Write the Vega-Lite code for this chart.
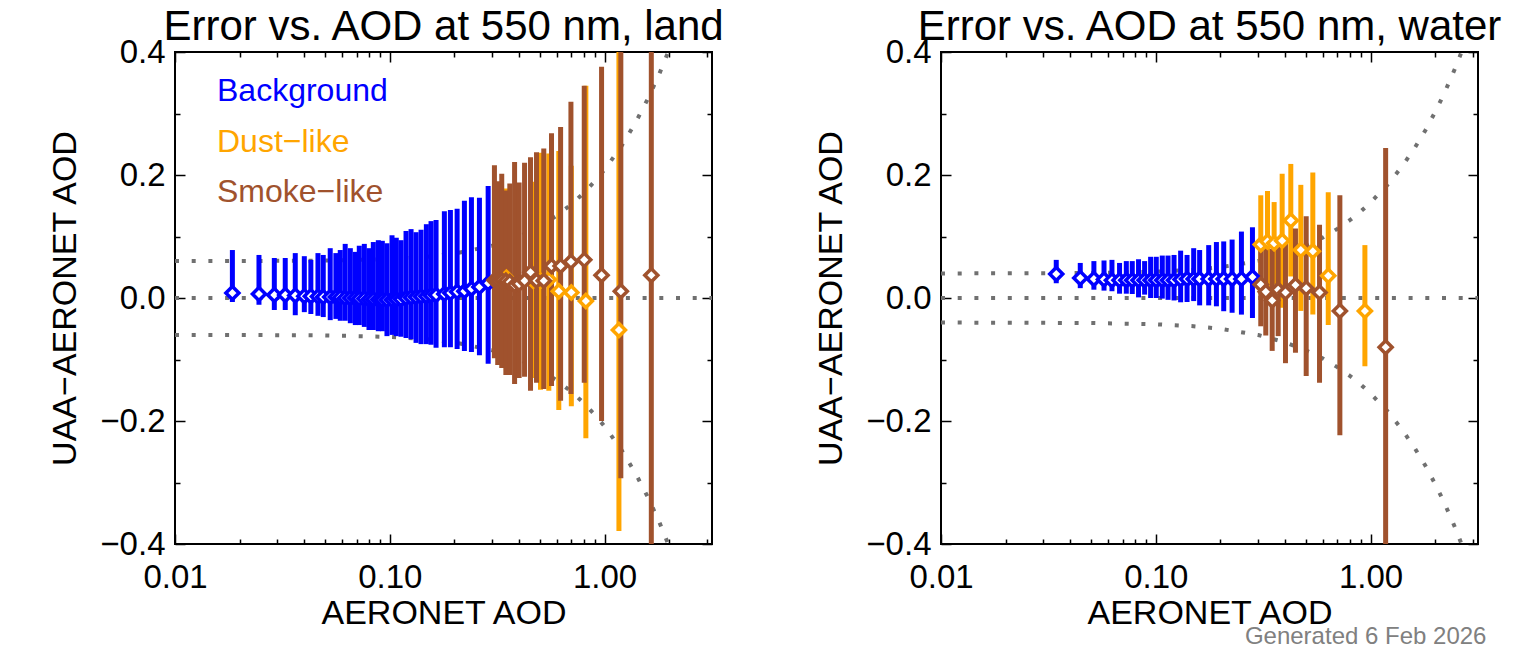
{
 "$schema": "https://vega.github.io/schema/vega-lite/v6.json",
 "padding": {"left": 47, "top": 5, "right": 10, "bottom": 2},
 "background": "white",
 "bounds": "flush",
 "spacing": 229,
 "config": {
  "font": "Liberation Sans",
  "view": {"stroke": "#000000", "strokeWidth": 2},
  "axis": {"domain": false, "grid": false, "labelFont": "Liberation Sans", "labelFontSize": 33, "labelColor": "#000000", "titleFont": "Liberation Sans", "titleFontSize": 34, "titleFontWeight": "normal", "titleColor": "#000000", "tickColor": "#000000", "tickWidth": 1.5, "labelOverlap": false, "labelFlush": false, "labelBound": false},
  "title": {"font": "Liberation Sans", "fontSize": 42, "fontWeight": "normal", "color": "#000000", "offset": -13}
 },
 "title": {"text": "Generated 6 Feb 2026", "orient": "bottom", "anchor": "end", "fontSize": 24, "color": "#808080", "fontWeight": "normal", "offset": -6, "dx": -17},
 "resolve": {"scale": {"color": "independent"}},
 "datasets": {
  "env": [
   {"p":"land","s":"zero","a":0.01,"v":0},{"p":"land","s":"zero","a":3.1623,"v":0},
   {"p":"water","s":"zero","a":0.01,"v":0},{"p":"water","s":"zero","a":3.1623,"v":0},
   {"p":"land","s":"up","a":0.01,"v":0.06},{"p":"land","s":"up","a":0.02,"v":0.0601},{"p":"land","s":"up","a":0.05,"v":0.0608},{"p":"land","s":"up","a":0.1,"v":0.0632},{"p":"land","s":"up","a":0.15,"v":0.0671},{"p":"land","s":"up","a":0.2,"v":0.0721},{"p":"land","s":"up","a":0.3,"v":0.0849},{"p":"land","s":"up","a":0.4,"v":0.1},{"p":"land","s":"up","a":0.5,"v":0.1166},{"p":"land","s":"up","a":0.6,"v":0.1342},{"p":"land","s":"up","a":0.7,"v":0.1523},{"p":"land","s":"up","a":0.8,"v":0.1709},{"p":"land","s":"up","a":0.9,"v":0.1897},{"p":"land","s":"up","a":1.0,"v":0.2088},{"p":"land","s":"up","a":1.2,"v":0.2474},{"p":"land","s":"up","a":1.4,"v":0.2865},{"p":"land","s":"up","a":1.6,"v":0.3258},{"p":"land","s":"up","a":1.8,"v":0.365},{"p":"land","s":"up","a":2.0,"v":0.4045},{"p":"land","s":"up","a":2.2,"v":0.444},{"p":"land","s":"up","a":2.5,"v":0.5036},{"p":"land","s":"up","a":2.8,"v":0.5632},{"p":"land","s":"up","a":3.16,"v":0.6347},
   {"p":"land","s":"lo","a":0.01,"v":-0.06},{"p":"land","s":"lo","a":0.02,"v":-0.0601},{"p":"land","s":"lo","a":0.05,"v":-0.0608},{"p":"land","s":"lo","a":0.1,"v":-0.0632},{"p":"land","s":"lo","a":0.15,"v":-0.0671},{"p":"land","s":"lo","a":0.2,"v":-0.0721},{"p":"land","s":"lo","a":0.3,"v":-0.0849},{"p":"land","s":"lo","a":0.4,"v":-0.1},{"p":"land","s":"lo","a":0.5,"v":-0.1166},{"p":"land","s":"lo","a":0.6,"v":-0.1342},{"p":"land","s":"lo","a":0.7,"v":-0.1523},{"p":"land","s":"lo","a":0.8,"v":-0.1709},{"p":"land","s":"lo","a":0.9,"v":-0.1897},{"p":"land","s":"lo","a":1.0,"v":-0.2088},{"p":"land","s":"lo","a":1.2,"v":-0.2474},{"p":"land","s":"lo","a":1.4,"v":-0.2865},{"p":"land","s":"lo","a":1.6,"v":-0.3258},{"p":"land","s":"lo","a":1.8,"v":-0.365},{"p":"land","s":"lo","a":2.0,"v":-0.4045},{"p":"land","s":"lo","a":2.2,"v":-0.444},{"p":"land","s":"lo","a":2.5,"v":-0.5036},{"p":"land","s":"lo","a":2.8,"v":-0.5632},{"p":"land","s":"lo","a":3.16,"v":-0.6347},
   {"p":"water","s":"up","a":0.01,"v":0.04},{"p":"water","s":"up","a":0.02,"v":0.0401},{"p":"water","s":"up","a":0.05,"v":0.0407},{"p":"water","s":"up","a":0.1,"v":0.0427},{"p":"water","s":"up","a":0.15,"v":0.0459},{"p":"water","s":"up","a":0.2,"v":0.05},{"p":"water","s":"up","a":0.3,"v":0.0602},{"p":"water","s":"up","a":0.4,"v":0.0721},{"p":"water","s":"up","a":0.5,"v":0.085},{"p":"water","s":"up","a":0.6,"v":0.0985},{"p":"water","s":"up","a":0.7,"v":0.1124},{"p":"water","s":"up","a":0.8,"v":0.1265},{"p":"water","s":"up","a":0.9,"v":0.1408},{"p":"water","s":"up","a":1.0,"v":0.1552},{"p":"water","s":"up","a":1.2,"v":0.1844},{"p":"water","s":"up","a":1.4,"v":0.2138},{"p":"water","s":"up","a":1.6,"v":0.2433},{"p":"water","s":"up","a":1.8,"v":0.2729},{"p":"water","s":"up","a":2.0,"v":0.3028},{"p":"water","s":"up","a":2.2,"v":0.3324},{"p":"water","s":"up","a":2.5,"v":0.3771},{"p":"water","s":"up","a":2.8,"v":0.4219},{"p":"water","s":"up","a":3.16,"v":0.4757},
   {"p":"water","s":"lo","a":0.01,"v":-0.04},{"p":"water","s":"lo","a":0.02,"v":-0.0401},{"p":"water","s":"lo","a":0.05,"v":-0.0407},{"p":"water","s":"lo","a":0.1,"v":-0.0427},{"p":"water","s":"lo","a":0.15,"v":-0.0459},{"p":"water","s":"lo","a":0.2,"v":-0.05},{"p":"water","s":"lo","a":0.3,"v":-0.0602},{"p":"water","s":"lo","a":0.4,"v":-0.0721},{"p":"water","s":"lo","a":0.5,"v":-0.085},{"p":"water","s":"lo","a":0.6,"v":-0.0985},{"p":"water","s":"lo","a":0.7,"v":-0.1124},{"p":"water","s":"lo","a":0.8,"v":-0.1265},{"p":"water","s":"lo","a":0.9,"v":-0.1408},{"p":"water","s":"lo","a":1.0,"v":-0.1552},{"p":"water","s":"lo","a":1.2,"v":-0.1844},{"p":"water","s":"lo","a":1.4,"v":-0.2138},{"p":"water","s":"lo","a":1.6,"v":-0.2433},{"p":"water","s":"lo","a":1.8,"v":-0.2729},{"p":"water","s":"lo","a":2.0,"v":-0.3028},{"p":"water","s":"lo","a":2.2,"v":-0.3324},{"p":"water","s":"lo","a":2.5,"v":-0.3771},{"p":"water","s":"lo","a":2.8,"v":-0.4219},{"p":"water","s":"lo","a":3.16,"v":-0.4757}
  ],
  "pts": [
   {"p":"land","c":"Background","a":0.0185,"e":0.008,"lo":-0.0065,"hi":0.078},
   {"p":"land","c":"Background","a":0.0246,"e":0.0065,"lo":-0.011,"hi":0.070},
   {"p":"land","c":"Background","a":0.0290,"e":0.005,"lo":-0.0195,"hi":0.065},
   {"p":"land","c":"Background","a":0.0326,"e":0.005,"lo":-0.0195,"hi":0.065},
   {"p":"land","c":"Background","a":0.0363,"e":0.004,"lo":-0.028,"hi":0.073},
   {"p":"land","c":"Background","a":0.0400,"e":0.003,"lo":-0.023,"hi":0.068},
   {"p":"land","c":"Background","a":0.0429,"e":0.003,"lo":-0.026,"hi":0.062},
   {"p":"land","c":"Background","a":0.0463,"e":0.0025,"lo":-0.029,"hi":0.073},
   {"p":"land","c":"Background","a":0.0490,"e":0.0015,"lo":-0.031,"hi":0.070},
   {"p":"land","c":"Background","a":0.0528,"e":0.0015,"lo":-0.036,"hi":0.081},
   {"p":"land","c":"Background","a":0.0561,"e":0.0015,"lo":-0.034,"hi":0.073},
   {"p":"land","c":"Background","a":0.0588,"e":0.001,"lo":-0.037,"hi":0.078},
   {"p":"land","c":"Background","a":0.0620,"e":0.0,"lo":-0.037,"hi":0.088},
   {"p":"land","c":"Background","a":0.0655,"e":0.0,"lo":-0.041,"hi":0.081},
   {"p":"land","c":"Background","a":0.0691,"e":0.0,"lo":-0.044,"hi":0.075},
   {"p":"land","c":"Background","a":0.0721,"e":-0.001,"lo":-0.044,"hi":0.085},
   {"p":"land","c":"Background","a":0.0761,"e":-0.001,"lo":-0.047,"hi":0.088},
   {"p":"land","c":"Background","a":0.0800,"e":-0.002,"lo":-0.052,"hi":0.081},
   {"p":"land","c":"Background","a":0.0838,"e":-0.002,"lo":-0.052,"hi":0.091},
   {"p":"land","c":"Background","a":0.0884,"e":-0.0025,"lo":-0.054,"hi":0.094},
   {"p":"land","c":"Background","a":0.0923,"e":-0.003,"lo":-0.054,"hi":0.093},
   {"p":"land","c":"Background","a":0.0970,"e":-0.003,"lo":-0.062,"hi":0.089},
   {"p":"land","c":"Background","a":0.1024,"e":-0.003,"lo":-0.060,"hi":0.102},
   {"p":"land","c":"Background","a":0.1072,"e":-0.0025,"lo":-0.062,"hi":0.098},
   {"p":"land","c":"Background","a":0.1128,"e":-0.002,"lo":-0.063,"hi":0.094},
   {"p":"land","c":"Background","a":0.1190,"e":0.0,"lo":-0.065,"hi":0.109},
   {"p":"land","c":"Background","a":0.1256,"e":0.001,"lo":-0.067,"hi":0.112},
   {"p":"land","c":"Background","a":0.1325,"e":0.0015,"lo":-0.073,"hi":0.107},
   {"p":"land","c":"Background","a":0.1398,"e":0.0025,"lo":-0.075,"hi":0.111},
   {"p":"land","c":"Background","a":0.1480,"e":0.003,"lo":-0.075,"hi":0.120},
   {"p":"land","c":"Background","a":0.1556,"e":0.004,"lo":-0.076,"hi":0.125},
   {"p":"land","c":"Background","a":0.1642,"e":0.005,"lo":-0.081,"hi":0.127},
   {"p":"land","c":"Background","a":0.1795,"e":0.0065,"lo":-0.080,"hi":0.141},
   {"p":"land","c":"Background","a":0.1915,"e":0.008,"lo":-0.080,"hi":0.143},
   {"p":"land","c":"Background","a":0.2058,"e":0.010,"lo":-0.083,"hi":0.145},
   {"p":"land","c":"Background","a":0.2225,"e":0.011,"lo":-0.086,"hi":0.158},
   {"p":"land","c":"Background","a":0.2399,"e":0.015,"lo":-0.088,"hi":0.164},
   {"p":"land","c":"Background","a":0.2614,"e":0.018,"lo":-0.093,"hi":0.163},
   {"p":"land","c":"Background","a":0.2870,"e":0.024,"lo":-0.107,"hi":0.182},
   {"p":"land","c":"Dust−like","a":0.349,"e":0.033,"lo":-0.118,"hi":0.178},
   {"p":"land","c":"Dust−like","a":0.465,"e":0.028,"lo":-0.130,"hi":0.189},
   {"p":"land","c":"Dust−like","a":0.503,"e":0.028,"lo":-0.149,"hi":0.236},
   {"p":"land","c":"Dust−like","a":0.550,"e":0.030,"lo":-0.151,"hi":0.235},
   {"p":"land","c":"Dust−like","a":0.612,"e":0.011,"lo":-0.182,"hi":0.239},
   {"p":"land","c":"Dust−like","a":0.700,"e":0.009,"lo":-0.176,"hi":0.215},
   {"p":"land","c":"Dust−like","a":0.818,"e":-0.005,"lo":-0.228,"hi":0.345},
   {"p":"land","c":"Dust−like","a":1.166,"e":-0.052,"lo":-0.379,"hi":0.55},
   {"p":"land","c":"Smoke−like","a":0.307,"e":0.029,"lo":-0.098,"hi":0.216},
   {"p":"land","c":"Smoke−like","a":0.318,"e":0.029,"lo":-0.109,"hi":0.190},
   {"p":"land","c":"Smoke−like","a":0.332,"e":0.029,"lo":-0.114,"hi":0.202},
   {"p":"land","c":"Smoke−like","a":0.347,"e":0.028,"lo":-0.125,"hi":0.175},
   {"p":"land","c":"Smoke−like","a":0.362,"e":0.026,"lo":-0.125,"hi":0.186},
   {"p":"land","c":"Smoke−like","a":0.381,"e":0.021,"lo":-0.140,"hi":0.221},
   {"p":"land","c":"Smoke−like","a":0.400,"e":0.023,"lo":-0.130,"hi":0.188},
   {"p":"land","c":"Smoke−like","a":0.424,"e":0.028,"lo":-0.128,"hi":0.220},
   {"p":"land","c":"Smoke−like","a":0.452,"e":0.042,"lo":-0.151,"hi":0.229},
   {"p":"land","c":"Smoke−like","a":0.482,"e":0.028,"lo":-0.138,"hi":0.237},
   {"p":"land","c":"Smoke−like","a":0.521,"e":0.028,"lo":-0.148,"hi":0.243},
   {"p":"land","c":"Smoke−like","a":0.566,"e":0.052,"lo":-0.143,"hi":0.268},
   {"p":"land","c":"Smoke−like","a":0.624,"e":0.052,"lo":-0.167,"hi":0.278},
   {"p":"land","c":"Smoke−like","a":0.697,"e":0.059,"lo":-0.156,"hi":0.319},
   {"p":"land","c":"Smoke−like","a":0.804,"e":0.062,"lo":-0.138,"hi":0.345},
   {"p":"land","c":"Smoke−like","a":0.968,"e":0.037,"lo":-0.200,"hi":0.376},
   {"p":"land","c":"Smoke−like","a":1.19,"e":0.011,"lo":-0.293,"hi":0.55},
   {"p":"land","c":"Smoke−like","a":1.65,"e":0.037,"lo":-0.6,"hi":0.6},
   {"p":"water","c":"Background","a":0.0344,"e":0.039,"lo":0.024,"hi":0.062},
   {"p":"water","c":"Background","a":0.0445,"e":0.0325,"lo":0.016,"hi":0.057},
   {"p":"water","c":"Background","a":0.0515,"e":0.031,"lo":0.0135,"hi":0.060},
   {"p":"water","c":"Background","a":0.0574,"e":0.030,"lo":0.012,"hi":0.061},
   {"p":"water","c":"Background","a":0.0625,"e":0.029,"lo":0.011,"hi":0.062},
   {"p":"water","c":"Background","a":0.0678,"e":0.029,"lo":0.007,"hi":0.057},
   {"p":"water","c":"Background","a":0.0729,"e":0.029,"lo":0.007,"hi":0.060},
   {"p":"water","c":"Background","a":0.0777,"e":0.029,"lo":0.0065,"hi":0.060},
   {"p":"water","c":"Background","a":0.0831,"e":0.029,"lo":0.001,"hi":0.063},
   {"p":"water","c":"Background","a":0.0887,"e":0.029,"lo":0.0055,"hi":0.060},
   {"p":"water","c":"Background","a":0.0946,"e":0.029,"lo":0.0,"hi":0.067},
   {"p":"water","c":"Background","a":0.1005,"e":0.029,"lo":0.0,"hi":0.067},
   {"p":"water","c":"Background","a":0.1072,"e":0.029,"lo":-0.001,"hi":0.069},
   {"p":"water","c":"Background","a":0.1140,"e":0.029,"lo":-0.003,"hi":0.069},
   {"p":"water","c":"Background","a":0.1216,"e":0.029,"lo":-0.004,"hi":0.070},
   {"p":"water","c":"Background","a":0.1305,"e":0.030,"lo":-0.007,"hi":0.077},
   {"p":"water","c":"Background","a":0.1398,"e":0.031,"lo":-0.0065,"hi":0.070},
   {"p":"water","c":"Background","a":0.1501,"e":0.031,"lo":-0.005,"hi":0.081},
   {"p":"water","c":"Background","a":0.1600,"e":0.031,"lo":-0.012,"hi":0.078},
   {"p":"water","c":"Background","a":0.1763,"e":0.031,"lo":-0.012,"hi":0.086},
   {"p":"water","c":"Background","a":0.1915,"e":0.031,"lo":-0.0135,"hi":0.091},
   {"p":"water","c":"Background","a":0.2071,"e":0.031,"lo":-0.0215,"hi":0.092},
   {"p":"water","c":"Background","a":0.2266,"e":0.031,"lo":-0.024,"hi":0.095},
   {"p":"water","c":"Background","a":0.2504,"e":0.031,"lo":-0.027,"hi":0.108},
   {"p":"water","c":"Background","a":0.2818,"e":0.034,"lo":-0.0325,"hi":0.115},
   {"p":"water","c":"Dust−like","a":0.3081,"e":0.087,"lo":0.007,"hi":0.167},
   {"p":"water","c":"Dust−like","a":0.3311,"e":0.092,"lo":0.010,"hi":0.174},
   {"p":"water","c":"Dust−like","a":0.3556,"e":0.089,"lo":0.022,"hi":0.156},
   {"p":"water","c":"Dust−like","a":0.3875,"e":0.093,"lo":-0.016,"hi":0.202},
   {"p":"water","c":"Dust−like","a":0.4251,"e":0.126,"lo":0.035,"hi":0.218},
   {"p":"water","c":"Dust−like","a":0.4733,"e":0.078,"lo":-0.021,"hi":0.184},
   {"p":"water","c":"Dust−like","a":0.5383,"e":0.076,"lo":-0.027,"hi":0.204},
   {"p":"water","c":"Dust−like","a":0.6351,"e":0.036,"lo":-0.044,"hi":0.172},
   {"p":"water","c":"Dust−like","a":0.9407,"e":-0.021,"lo":-0.111,"hi":0.086},
   {"p":"water","c":"Smoke−like","a":0.3081,"e":0.022,"lo":-0.046,"hi":0.089},
   {"p":"water","c":"Smoke−like","a":0.3251,"e":0.010,"lo":-0.061,"hi":0.089},
   {"p":"water","c":"Smoke−like","a":0.3482,"e":-0.004,"lo":-0.086,"hi":0.080},
   {"p":"water","c":"Smoke−like","a":0.3713,"e":0.0135,"lo":-0.062,"hi":0.086},
   {"p":"water","c":"Smoke−like","a":0.4015,"e":0.009,"lo":-0.106,"hi":0.089},
   {"p":"water","c":"Smoke−like","a":0.4469,"e":0.021,"lo":-0.089,"hi":0.113},
   {"p":"water","c":"Smoke−like","a":0.5014,"e":0.016,"lo":-0.127,"hi":0.133},
   {"p":"water","c":"Smoke−like","a":0.5784,"e":0.009,"lo":-0.138,"hi":0.119},
   {"p":"water","c":"Smoke−like","a":0.7193,"e":-0.021,"lo":-0.223,"hi":0.167},
   {"p":"water","c":"Smoke−like","a":1.175,"e":-0.080,"lo":-0.45,"hi":0.244}
  ]
 },
 "hconcat": [
  {
   "width": 537, "height": 492,
   "title": {"text": "Error vs. AOD at 550 nm, land"},
   "resolve": {"axis": {"x": "independent", "y": "independent"}},
   "layer": [
    {
     "data": {"name": "env"},
     "transform": [{"filter": "datum.p == 'land'"}],
     "mark": {"type": "line", "clip": true, "color": "#707070", "strokeWidth": 4, "strokeDash": [4, 12.7]},
     "encoding": {
      "x": {"field": "a", "type": "quantitative", "scale": {"type": "log", "domain": [0.01, 3.1623], "nice": false},
            "axis": {"orient": "bottom", "title": "AERONET AOD", "values": [0.01,0.02,0.03,0.04,0.05,0.06,0.07,0.08,0.09,0.1,0.2,0.3,0.4,0.5,0.6,0.7,0.8,0.9,1,2,3],
                     "labelExpr": "abs(log(datum.value)/LN10 - round(log(datum.value)/LN10)) < 0.001 ? format(datum.value, '.2f') : ''",
                     "tickSize": {"condition": {"test": "abs(log(datum.value)/LN10 - round(log(datum.value)/LN10)) < 0.001", "value": -10}, "value": -5},
                     "labelPadding": 27, "titlePadding": -3}},
      "y": {"field": "v", "type": "quantitative", "scale": {"domain": [-0.4, 0.4], "nice": false, "zero": false},
            "axis": {"orient": "left", "title": "UAA−AERONET AOD", "values": [-0.4,-0.3,-0.2,-0.1,0,0.1,0.2,0.3,0.4],
                     "labelExpr": "round(abs(datum.value)*10) % 2 == 0 ? format(datum.value, '.1f') : ''",
                     "tickSize": {"condition": {"test": "round(abs(datum.value)*10) % 2 == 0", "value": -10}, "value": -5},
                     "labelPadding": 20, "titlePadding": 17}},
      "detail": {"field": "s", "type": "nominal"}
     }
    },
    {
     "data": {"name": "pts"},
     "transform": [{"filter": "datum.p == 'land'"}],
     "mark": {"type": "rule", "clip": true, "strokeWidth": 5},
     "encoding": {
      "x": {"field": "a", "type": "quantitative",
            "axis": {"orient": "top", "title": null, "labels": false, "values": [0.01,0.02,0.03,0.04,0.05,0.06,0.07,0.08,0.09,0.1,0.2,0.3,0.4,0.5,0.6,0.7,0.8,0.9,1,2,3],
                     "tickSize": {"condition": {"test": "abs(log(datum.value)/LN10 - round(log(datum.value)/LN10)) < 0.001", "value": -10}, "value": -5}}},
      "y": {"field": "lo", "type": "quantitative",
            "axis": {"orient": "right", "title": null, "labels": false, "values": [-0.4,-0.3,-0.2,-0.1,0,0.1,0.2,0.3,0.4],
                     "tickSize": {"condition": {"test": "round(abs(datum.value)*10) % 2 == 0", "value": -10}, "value": -5}}},
      "y2": {"field": "hi"},
      "color": {"field": "c", "type": "nominal",
                "scale": {"domain": ["Background", "Dust−like", "Smoke−like"], "range": ["#0000ff", "#ffa500", "#a0522d"]},
                "legend": {"orient": "none", "legendX": 10, "legendY": 23, "title": null, "symbolSize": 0, "symbolOpacity": 0, "symbolStrokeWidth": 0, "symbolType": "circle",
                           "labelFontSize": 32, "labelFont": "Liberation Sans", "labelOffset": 0, "rowPadding": 18.5, "padding": 0, "labelLimit": 400,
                           "encode": {"labels": {"update": {"fill": {"signal": "datum.value === 'Background' ? '#0000ff' : datum.value === 'Dust−like' ? '#ffa500' : '#a0522d'"}}}}}}
     }
    },
    {
     "data": {"name": "pts"},
     "transform": [{"filter": "datum.p == 'land'"}],
     "mark": {"type": "point", "shape": "diamond", "filled": false, "fill": "white", "fillOpacity": 1, "opacity": 1, "size": 170, "strokeWidth": 3.5, "clip": true},
     "encoding": {
      "x": {"field": "a", "type": "quantitative", "axis": null},
      "y": {"field": "e", "type": "quantitative", "axis": null},
      "color": {"field": "c", "type": "nominal"}
     }
    }
   ]
  },
  {
   "width": 537, "height": 492,
   "title": {"text": "Error vs. AOD at 550 nm, water"},
   "resolve": {"axis": {"x": "independent", "y": "independent"}},
   "layer": [
    {
     "data": {"name": "env"},
     "transform": [{"filter": "datum.p == 'water'"}],
     "mark": {"type": "line", "clip": true, "color": "#707070", "strokeWidth": 4, "strokeDash": [4, 12.7]},
     "encoding": {
      "x": {"field": "a", "type": "quantitative", "scale": {"type": "log", "domain": [0.01, 3.1623], "nice": false},
            "axis": {"orient": "bottom", "title": "AERONET AOD", "values": [0.01,0.02,0.03,0.04,0.05,0.06,0.07,0.08,0.09,0.1,0.2,0.3,0.4,0.5,0.6,0.7,0.8,0.9,1,2,3],
                     "labelExpr": "abs(log(datum.value)/LN10 - round(log(datum.value)/LN10)) < 0.001 ? format(datum.value, '.2f') : ''",
                     "tickSize": {"condition": {"test": "abs(log(datum.value)/LN10 - round(log(datum.value)/LN10)) < 0.001", "value": -10}, "value": -5},
                     "labelPadding": 27, "titlePadding": -3}},
      "y": {"field": "v", "type": "quantitative", "scale": {"domain": [-0.4, 0.4], "nice": false, "zero": false},
            "axis": {"orient": "left", "title": "UAA−AERONET AOD", "values": [-0.4,-0.3,-0.2,-0.1,0,0.1,0.2,0.3,0.4],
                     "labelExpr": "round(abs(datum.value)*10) % 2 == 0 ? format(datum.value, '.1f') : ''",
                     "tickSize": {"condition": {"test": "round(abs(datum.value)*10) % 2 == 0", "value": -10}, "value": -5},
                     "labelPadding": 20, "titlePadding": 17}},
      "detail": {"field": "s", "type": "nominal"}
     }
    },
    {
     "data": {"name": "pts"},
     "transform": [{"filter": "datum.p == 'water'"}],
     "mark": {"type": "rule", "clip": true, "strokeWidth": 5},
     "encoding": {
      "x": {"field": "a", "type": "quantitative",
            "axis": {"orient": "top", "title": null, "labels": false, "values": [0.01,0.02,0.03,0.04,0.05,0.06,0.07,0.08,0.09,0.1,0.2,0.3,0.4,0.5,0.6,0.7,0.8,0.9,1,2,3],
                     "tickSize": {"condition": {"test": "abs(log(datum.value)/LN10 - round(log(datum.value)/LN10)) < 0.001", "value": -10}, "value": -5}}},
      "y": {"field": "lo", "type": "quantitative",
            "axis": {"orient": "right", "title": null, "labels": false, "values": [-0.4,-0.3,-0.2,-0.1,0,0.1,0.2,0.3,0.4],
                     "tickSize": {"condition": {"test": "round(abs(datum.value)*10) % 2 == 0", "value": -10}, "value": -5}}},
      "y2": {"field": "hi"},
      "color": {"field": "c", "type": "nominal",
                "scale": {"domain": ["Background", "Dust−like", "Smoke−like"], "range": ["#0000ff", "#ffa500", "#a0522d"]},
                "legend": null}
     }
    },
    {
     "data": {"name": "pts"},
     "transform": [{"filter": "datum.p == 'water'"}],
     "mark": {"type": "point", "shape": "diamond", "filled": false, "fill": "white", "fillOpacity": 1, "opacity": 1, "size": 170, "strokeWidth": 3.5, "clip": true},
     "encoding": {
      "x": {"field": "a", "type": "quantitative", "axis": null},
      "y": {"field": "e", "type": "quantitative", "axis": null},
      "color": {"field": "c", "type": "nominal", "legend": null}
     }
    }
   ]
  }
 ]
}
